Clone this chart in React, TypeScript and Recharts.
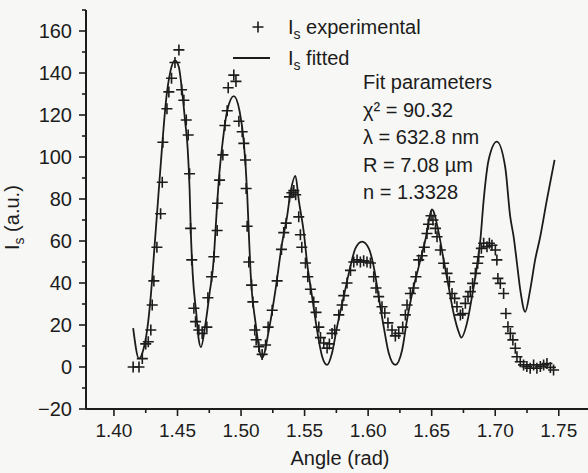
import React from 'react';
import { ComposedChart, Line, Scatter, XAxis, YAxis } from 'recharts';

// measured points (+)
const expAngle = [
  1.4151, 1.4197, 1.4223, 1.425, 1.427, 1.429, 1.4301, 1.4314, 1.4338, 1.4367, 1.438, 1.4385, 1.4417, 1.4432,
  1.4453, 1.448, 1.4511, 1.4532, 1.455, 1.4569, 1.4584, 1.4595, 1.4603, 1.4612, 1.4629, 1.4642, 1.4668, 1.4694,
  1.4731, 1.4739, 1.4768, 1.4786, 1.4812, 1.4815, 1.4831, 1.4857, 1.4873, 1.4891, 1.4899, 1.4943, 1.496, 1.4983,
  1.5009, 1.5022, 1.5035, 1.504, 1.5048, 1.5061, 1.5083, 1.5093, 1.5108, 1.5119, 1.514, 1.5166, 1.5193, 1.5213,
  1.5245, 1.5284, 1.5318, 1.5336, 1.5355, 1.5381, 1.54, 1.5415, 1.543, 1.5454, 1.5467, 1.5478, 1.5507, 1.5525,
  1.5546, 1.5572, 1.559, 1.5612, 1.5625, 1.5651, 1.5677, 1.5695, 1.5716, 1.5737, 1.5769, 1.5795, 1.5808, 1.5834,
  1.5861, 1.5887, 1.5913, 1.5939, 1.5965, 1.5991, 1.6018, 1.6044, 1.6062, 1.6083, 1.6109, 1.6131, 1.6156, 1.6188,
  1.6214, 1.6241, 1.6272, 1.6293, 1.6306, 1.6332, 1.6358, 1.6376, 1.6398, 1.6424, 1.6442, 1.6463, 1.6475, 1.6495,
  1.651, 1.653, 1.6542, 1.6568, 1.6594, 1.6621, 1.6639, 1.666, 1.6681, 1.6699, 1.6726, 1.6744, 1.6765, 1.6786,
  1.6804, 1.6822, 1.6844, 1.6862, 1.687, 1.6891, 1.6909, 1.6935, 1.6954, 1.6974, 1.7001, 1.7013, 1.7021, 1.704,
  1.7066, 1.7084, 1.71, 1.7119, 1.7139, 1.7158, 1.7171, 1.7197, 1.7223, 1.7249, 1.7275, 1.7302, 1.7328, 1.7355,
  1.7381, 1.7407, 1.7434, 1.7459,
];
const expIntensity = [
  0, 0, 4, 11, 12, 17.6, 29.5, 41, 57, 73, 88, 107, 123, 131,
  137.5, 145, 151, 132, 127, 117.6, 110.5, 92, 66, 51, 28, 21.6, 17.6, 16,
  19, 33, 43, 52.5, 65, 78, 89, 101, 115, 122, 133, 139, 136, 117,
  112, 106.5, 98.6, 85, 67, 50, 39, 31, 17.6, 13, 9.7, 6, 10.5, 19,
  27, 41, 56, 64, 68.5, 81, 83, 84, 82, 71.5, 63, 57, 49.5, 43,
  37, 31, 26, 19, 14, 11.4, 9, 11, 16, 17.6, 24.8, 29.5, 34, 40,
  46, 50, 51, 50, 50.6, 50, 49.5, 43, 37.6, 33.5, 28.7, 25.7, 21, 17.6,
  14.8, 16, 19, 24.8, 29.5, 35, 37.6, 43, 51, 53, 57, 63.6, 68, 72,
  70, 66, 62, 55.7, 49.4, 44.6, 40.6, 35, 32.7, 28.7, 24.8, 25.5, 30.3, 33.5,
  35.9, 39.8, 44.6, 49.4, 52.5, 56.5, 58.9, 57.3, 58.9, 58, 55.7, 51, 42.2, 39.8,
  35, 25.5, 19.2, 16, 12.9, 8.9, 4.9, 2.5, 1, 0.2, -0.6, 1, -0.6, 0.2,
  1, 1.7, -0.2, -1.4,
];

// fitted curve
const fitAngle = [
  1.4151, 1.4197, 1.423, 1.4262, 1.429, 1.432, 1.435, 1.438, 1.441, 1.4445, 1.448, 1.451, 1.4535, 1.456,
  1.458, 1.4595, 1.4605, 1.462, 1.4647, 1.4665, 1.4684, 1.4721, 1.4752, 1.4786, 1.4799, 1.4825, 1.4857, 1.4891,
  1.4943, 1.4988, 1.5022, 1.5048, 1.5061, 1.5075, 1.5114, 1.5166, 1.5219, 1.5271, 1.5323, 1.5362, 1.5389, 1.5428,
  1.5454, 1.5494, 1.552, 1.5559, 1.5598, 1.5638, 1.5677, 1.5716, 1.5755, 1.5808, 1.586, 1.59, 1.5952, 1.6005,
  1.6044, 1.6083, 1.6123, 1.6162, 1.6214, 1.6267, 1.6306, 1.6346, 1.6398, 1.645, 1.6502, 1.6555, 1.6594, 1.6634,
  1.6673, 1.6712, 1.6733, 1.6778, 1.6817, 1.6856, 1.6883, 1.6909, 1.6948, 1.7013, 1.7079, 1.7118, 1.7145, 1.7171,
  1.7197, 1.7236, 1.7275, 1.7314, 1.7354, 1.7406, 1.7467,
];
const fitIntensity = [
  18.5, 4, 8, 18, 34, 58, 82, 106, 127, 141, 146, 143, 132, 117,
  104, 85, 64, 44, 26, 14, 9.5, 21, 35, 52, 65, 89, 108, 122,
  129, 122, 107, 83, 64, 45, 21, 4.3, 17.6, 36.7, 59, 71.6, 83, 91,
  79.5, 64, 49.5, 33.5, 17.6, 5, 1, 6.7, 19, 33.5, 47.8, 56.5, 59.7, 56.5,
  47.8, 33.5, 19, 6.7, 1, 8, 22.4, 35, 47.8, 60.5, 75, 64, 51, 38,
  25.5, 16.8, 14, 21, 33.5, 47.8, 60.5, 79.5, 98.6, 107.3, 95, 71.6, 62, 49.4,
  36.7, 26.3, 36.7, 51, 62, 79.5, 98.6,
];

const xTicks = [1.4, 1.425, 1.45, 1.475, 1.5, 1.525, 1.55, 1.575, 1.6, 1.625, 1.65, 1.675, 1.7, 1.725, 1.75];
const yTicks = [-20, -10, 0, 10, 20, 30, 40, 50, 60, 70, 80, 90, 100, 110, 120, 130, 140, 150, 160, 170];

const fitLines = ['Fit parameters', 'χ² = 90.32', 'λ = 632.8 nm', 'R = 7.08 µm', 'n = 1.3328'];

const expData = expAngle.map((a, i) => ({ angle: a, intensity: expIntensity[i] }));
const fitData = fitAngle.map((a, i) => ({ angle: a, intensity: fitIntensity[i] }));

const INK = '#1c1c1c';
const FONT = '"Liberation Sans", Arial, sans-serif';

const YTick = (props: any) => {
  const { x, y, payload } = props;
  const major = payload.value % 20 === 0;
  return (
    <g>
      <line x1={x} x2={x - (major ? 7 : 4)} y1={y} y2={y} stroke={INK} strokeWidth={1.6} />
      {major && (
        <text x={x - 14} y={y} dy="0.36em" textAnchor="end" fontSize={20} fontFamily={FONT} fill={INK}>
          {payload.value < 0 ? '\u2212' + Math.abs(payload.value) : payload.value}
        </text>
      )}
    </g>
  );
};

const XTick = (props: any) => {
  const { x, y, payload } = props;
  const major = Math.round(payload.value * 1000) % 50 === 0;
  return (
    <g>
      <line x1={x} x2={x} y1={y} y2={y + (major ? 7 : 4)} stroke={INK} strokeWidth={1.6} />
      {major && (
        <text x={x} y={y + 21} dy="0.36em" textAnchor="middle" fontSize={19} fontFamily={FONT} fill={INK}>
          {payload.value.toFixed(2)}
        </text>
      )}
    </g>
  );
};

const Cross = (props: any) => {
  const { cx, cy } = props;
  if (cx == null || cy == null) return null;
  return <path d={`M${cx - 5.5},${cy}h11M${cx},${cy - 5.5}v11`} stroke={INK} strokeWidth={1.6} fill="none" />;
};

export default function App() {
  return (
    <div style={{ position: 'absolute', left: 0, top: 0, width: 588, height: 473, background: '#f7f7f5' }}>
      <ComposedChart width={588} height={473} margin={{ top: 10, right: 0, left: 0, bottom: 0 }}>
        <XAxis
          type="number"
          dataKey="angle"
          domain={[1.378, 1.773]}
          allowDataOverflow
          ticks={xTicks}
          interval={0}
          height={64}
          tickSize={0}
          tickMargin={0}
          tickLine={false}
          tick={<XTick />}
          axisLine={{ stroke: INK, strokeWidth: 2 }}
        />
        <YAxis
          type="number"
          domain={[-20, 170]}
          allowDataOverflow
          ticks={yTicks}
          interval={0}
          width={86}
          tickSize={0}
          tickMargin={0}
          tickLine={false}
          tick={<YTick />}
          axisLine={{ stroke: INK, strokeWidth: 2 }}
        />
        <Line
          data={fitData}
          dataKey="intensity"
          type="monotone"
          stroke={INK}
          strokeWidth={1.8}
          dot={false}
          isAnimationActive={false}
        />
        <Scatter data={expData} dataKey="intensity" shape={<Cross />} isAnimationActive={false} />
      </ComposedChart>
      <svg
        width={588}
        height={473}
        style={{ position: 'absolute', left: 0, top: 0, pointerEvents: 'none' }}
        fontFamily={FONT}
        fill={INK}
      >
        <path d="M252.5,27h11M258,21.5v11" stroke={INK} strokeWidth={1.6} />
        <text x={288} y={34} fontSize={20}>
          I<tspan fontSize={14} dy={5}>s</tspan>
          <tspan dy={-5}> experimental</tspan>
        </text>
        <line x1={233} x2={270} y1={58} y2={58} stroke={INK} strokeWidth={1.8} />
        <text x={288} y={65} fontSize={20}>
          I<tspan fontSize={14} dy={5}>s</tspan>
          <tspan dy={-5}> fitted</tspan>
        </text>
        {fitLines.map((t, i) => (
          <text key={t} x={363} y={89 + i * 27.6} fontSize={20}>
            {t}
          </text>
        ))}
        <text x={340} y={465} fontSize={20} textAnchor="middle">
          Angle (rad)
        </text>
        <text transform="translate(19,250) rotate(-90)" fontSize={20}>
          I<tspan fontSize={14} dy={5}>s</tspan>
          <tspan dy={-5}> (a.u.)</tspan>
        </text>
      </svg>
    </div>
  );
}
